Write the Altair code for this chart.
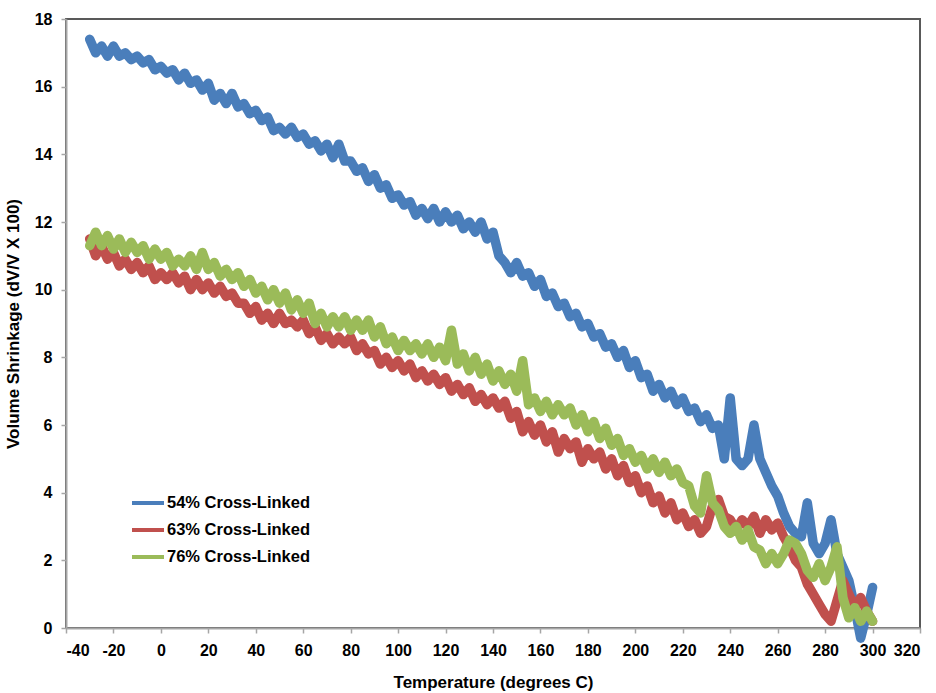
import altair as alt
import pandas as pd

temps = [-30 + 2.5 * i for i in range(133)]

series_names = ["54% Cross-Linked", "63% Cross-Linked", "76% Cross-Linked"]
series_colors = ["#4a7ebb", "#c0504d", "#9bbb59"]

blue = [17.4, 17.0, 17.2, 16.9, 17.2, 16.9, 17.0, 16.8, 16.9, 16.7,
        16.8, 16.5, 16.6, 16.4, 16.5, 16.2, 16.4, 16.1, 16.2, 15.9,
        16.1, 15.6, 15.8, 15.5, 15.8, 15.4, 15.5, 15.2, 15.3, 15.0,
        15.1, 14.7, 14.8, 14.6, 14.8, 14.5, 14.6, 14.3, 14.4, 14.1,
        14.3, 13.9, 14.3, 13.8, 13.8, 13.5, 13.6, 13.2, 13.4, 13.0,
        13.1, 12.7, 12.8, 12.5, 12.6, 12.2, 12.4, 12.1, 12.4, 12.0,
        12.3, 12.0, 12.2, 11.8, 12.0, 11.7, 12.0, 11.5, 11.7, 11.0,
        10.8, 10.5, 10.8, 10.4, 10.5, 10.1, 10.3, 9.8, 9.9, 9.5,
        9.6, 9.2, 9.3, 8.9, 9.0, 8.6, 8.7, 8.3, 8.4, 8.0,
        8.2, 7.7, 7.9, 7.4, 7.5, 7.0, 7.2, 6.8, 7.0, 6.6,
        6.8, 6.4, 6.5, 6.1, 6.3, 5.9, 6.0, 5.0, 6.8, 5.0,
        4.8, 5.0, 6.0, 5.0, 4.6, 4.2, 3.9, 3.4, 3.0, 2.8,
        2.7, 3.7, 2.5, 2.2, 2.5, 3.2, 2.2, 1.8, 1.4, 0.6,
        -0.3, 0.4, 1.2]

red = [11.5, 11.0, 11.3, 10.9, 11.1, 10.7, 10.9, 10.6, 10.8, 10.5,
       10.7, 10.3, 10.5, 10.3, 10.5, 10.2, 10.4, 10.0, 10.3, 10.0,
       10.2, 9.9, 10.1, 9.8, 9.9, 9.6, 9.6, 9.3, 9.5, 9.1,
       9.3, 9.0, 9.3, 9.0, 9.1, 8.9, 9.1, 8.7, 8.9, 8.5,
       8.7, 8.4, 8.6, 8.4, 8.6, 8.2, 8.4, 8.1, 8.2, 7.8,
       8.0, 7.7, 7.9, 7.6, 7.8, 7.4, 7.6, 7.3, 7.5, 7.2,
       7.4, 7.0, 7.2, 6.9, 7.1, 6.7, 6.9, 6.6, 6.8, 6.5,
       6.7, 6.2, 6.4, 5.8, 6.1, 5.7, 6.0, 5.5, 5.8, 5.2,
       5.6, 5.3, 5.5, 4.9, 5.3, 5.0, 5.2, 4.7, 5.0, 4.5,
       4.8, 4.3, 4.5, 4.0, 4.2, 3.7, 3.9, 3.4, 3.7, 3.2,
       3.4, 3.0, 3.2, 2.8, 3.0, 3.6, 3.8, 3.3, 3.2, 2.9,
       3.2, 3.0, 3.3, 2.8, 3.2, 2.9, 3.1, 2.7, 2.4, 2.0,
       1.8, 1.3, 1.0, 0.7, 0.4, 0.2, 0.8, 1.4, 1.0, 0.6,
       0.9, 0.5, 0.2]

green = [11.3, 11.7, 11.3, 11.6, 11.2, 11.5, 11.1, 11.4, 11.1, 11.3,
         10.9, 11.2, 10.9, 11.1, 10.7, 10.9, 10.7, 11.0, 10.6, 11.1,
         10.6, 10.8, 10.4, 10.6, 10.3, 10.5, 10.1, 10.3, 9.9, 10.1,
         9.7, 10.0, 9.6, 9.9, 9.4, 9.7, 9.3, 9.6, 9.0, 9.3,
         8.9, 9.2, 8.9, 9.2, 8.8, 9.1, 8.8, 9.1, 8.6, 8.9,
         8.4, 8.6, 8.2, 8.5, 8.2, 8.4, 8.1, 8.4, 8.0, 8.3,
         7.9, 8.8, 7.8, 8.1, 7.6, 8.0, 7.5, 7.8, 7.3, 7.6,
         7.2, 7.5, 7.0, 7.9, 6.6, 6.8, 6.4, 6.7, 6.3, 6.6,
         6.3, 6.5, 6.0, 6.3, 5.8, 6.1, 5.6, 5.9, 5.4, 5.6,
         5.1, 5.3, 4.9, 5.1, 4.7, 5.0, 4.6, 4.9, 4.5, 4.7,
         4.3, 4.2, 3.6, 3.4, 4.5, 3.7, 3.5, 3.0, 2.8, 3.0,
         2.6, 2.9, 2.4, 2.3, 1.9, 2.2, 1.9, 2.2, 2.6, 2.5,
         2.2, 1.7, 1.5, 1.9, 1.4, 1.8, 2.4, 0.9, 0.3, 0.6,
         0.2, 0.5, 0.2]

x_ticks = list(range(-40, 321, 20))
y_ticks = list(range(0, 19, 2))

rows = []
for order, (name, vals) in enumerate(zip(series_names, [blue, red, green])):
    for i, (t, v) in enumerate(zip(temps, vals)):
        rows.append({"Temperature": t, "Shrinkage": v, "Series": name, "idx": i, "ord": order})
df = pd.DataFrame(rows)

FONT = "Liberation Sans"
MINUS_FIX = "replace(datum.label, '\u2212', '-')"

chart = alt.Chart(df).mark_line(
    strokeWidth=9.5, strokeJoin="round", strokeCap="round", clip=False
).encode(
    x=alt.X("Temperature:Q",
            scale=alt.Scale(domain=[-40, 320], nice=False, zero=False),
            axis=alt.Axis(values=x_ticks, title="Temperature (degrees C)", grid=False,
                          format="d", labelExpr=MINUS_FIX, labelPadding=9,
                          titlePadding=16)),
    y=alt.Y("Shrinkage:Q",
            scale=alt.Scale(domain=[0, 18], nice=False),
            axis=alt.Axis(values=y_ticks, title="Volume Shrinkage (dV/V X 100)", grid=False,
                          format="d", labelPadding=9, titlePadding=12)),
    color=alt.Color("Series:N",
                    scale=alt.Scale(domain=series_names, range=series_colors),
                    legend=alt.Legend(orient="none", legendX=64, legendY=466, title=None,
                                      symbolType="stroke", symbolSize=1024,
                                      symbolStrokeWidth=4, labelFontSize=16.5,
                                      labelFont=FONT, labelFontWeight="bold",
                                      labelColor="#000000", rowPadding=-5.3, labelOffset=1)),
    detail="Series:N",
    order="idx:Q",
).properties(
    width=854, height=609,
    autosize=alt.AutoSizeParams(type="none"),
    padding={"left": 66, "top": 19, "right": 16, "bottom": 65},
).configure_view(
    stroke="#595959", strokeWidth=2
).configure_axis(
    labelFont=FONT, labelFontSize=16, labelFontWeight="bold", labelColor="#000000",
    titleFont=FONT, titleFontSize=17, titleFontWeight="bold", titleColor="#000000",
    domainColor="#a6a6a6", domainWidth=2, tickColor="#a6a6a6", tickWidth=1.5,
    tickSize=5,
)

chart.save("out.html", embed_options={"renderer": "svg", "actions": False})
